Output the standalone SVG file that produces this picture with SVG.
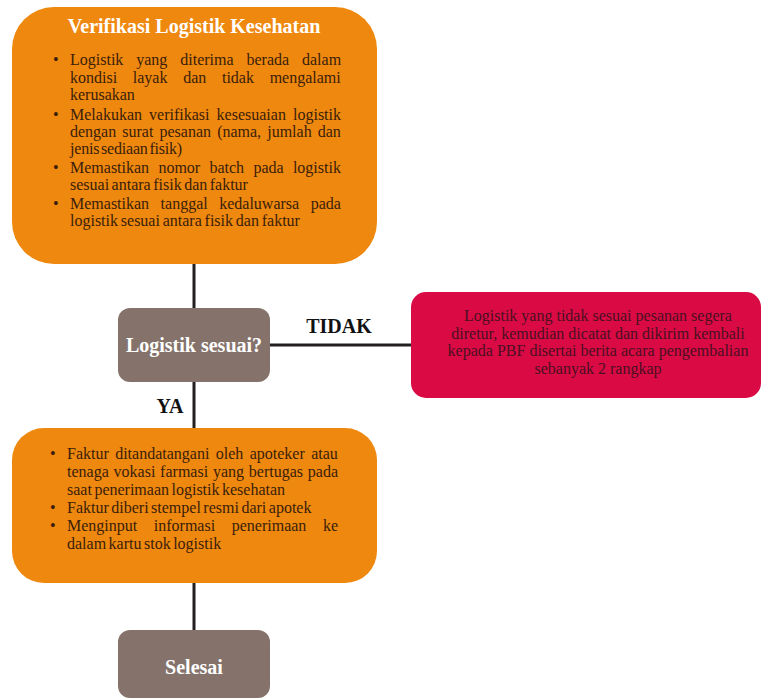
<svg xmlns="http://www.w3.org/2000/svg" width="762" height="700" viewBox="0 0 762 700">
<style>
.orange{fill:#ef880e}
.gray{fill:#85736b}
.red{fill:#da0a45}
.title{font-family:"Liberation Serif",serif;font-weight:bold;font-size:20px;fill:#ffffff}
.lbl{font-family:"Liberation Serif",serif;font-weight:bold;font-size:20px;fill:#111111}
.body{font-family:"Liberation Serif",serif;font-size:16px;fill:#3a1d0a}
.redtxt{font-family:"Liberation Serif",serif;font-size:16px;fill:#4a1020;text-anchor:middle}
.conn{stroke:#231f20;stroke-width:3;fill:none}
</style>
<rect width="762" height="700" fill="#ffffff"/>
<g id="connectors">
<line class="conn" x1="194" y1="262" x2="194" y2="310"/>
<line class="conn" x1="194" y1="380" x2="194" y2="430"/>
<line class="conn" x1="269" y1="345" x2="412" y2="345"/>
<line class="conn" x1="194" y1="581" x2="194" y2="632"/>
<text class="lbl" x="339" y="333" text-anchor="middle">TIDAK</text>
<text class="lbl" x="170" y="413" text-anchor="middle">YA</text>
</g>
<g id="verifikasi">
<rect class="orange" x="12" y="7" width="365" height="257" rx="42" ry="42"/>
<text class="title" x="194" y="33" text-anchor="middle">Verifikasi Logistik Kesehatan</text>
<g class="body">
<text x="53" y="65">•</text>
<text x="70" y="65" word-spacing="8.9">Logistik yang diterima berada dalam</text>
<text x="70" y="82.5" word-spacing="11.7">kondisi layak dan tidak mengalami</text>
<text x="70" y="100">kerusakan</text>
<text x="53" y="120">•</text>
<text x="70" y="120" word-spacing="3.1">Melakukan verifikasi kesesuaian logistik</text>
<text x="70" y="137" word-spacing="2.1">dengan surat pesanan (nama, jumlah dan</text>
<text x="70" y="154" word-spacing="-2" letter-spacing="-0.2">jenis sediaan fisik)</text>
<text x="53" y="173">•</text>
<text x="70" y="173" word-spacing="5.3">Memastikan nomor batch pada logistik</text>
<text x="70" y="190" word-spacing="-1.5">sesuai antara fisik dan faktur</text>
<text x="53" y="209">•</text>
<text x="70" y="209" word-spacing="7.5">Memastikan tanggal kedaluwarsa pada</text>
<text x="70" y="226" word-spacing="-1.2">logistik sesuai antara fisik dan faktur</text>
</g>
</g>
<g id="keputusan">
<rect class="gray" x="118" y="308" width="152" height="74" rx="12" ry="12"/>
<text class="title" x="194" y="352" text-anchor="middle">Logistik sesuai?</text>
</g>
<g id="retur">
<rect class="red" x="411" y="292" width="350" height="106" rx="15" ry="15"/>
<text class="redtxt" x="598" y="321">Logistik yang tidak sesuai pesanan segera</text>
<text class="redtxt" x="598" y="338.5">diretur, kemudian dicatat dan dikirim kembali</text>
<text class="redtxt" x="598" y="356">kepada PBF disertai berita acara pengembalian</text>
<text class="redtxt" x="598" y="373.5">sebanyak 2 rangkap</text>
</g>
<g id="faktur">
<rect class="orange" x="12" y="428" width="365" height="155" rx="32" ry="32"/>
<g class="body">
<text x="50" y="459">•</text>
<text x="67" y="459" word-spacing="2.4">Faktur ditandatangani oleh apoteker atau</text>
<text x="67" y="477" word-spacing="0.8">tenaga vokasi farmasi yang bertugas pada</text>
<text x="67" y="495" word-spacing="-1.5">saat penerimaan logistik kesehatan</text>
<text x="50" y="513">•</text>
<text x="67" y="513" word-spacing="-1.5">Faktur diberi stempel resmi dari apotek</text>
<text x="50" y="531">•</text>
<text x="67" y="531" word-spacing="12.6">Menginput informasi penerimaan ke</text>
<text x="67" y="549" word-spacing="-1.5">dalam kartu stok logistik</text>
</g>
</g>
<g id="selesai">
<rect class="gray" x="118" y="630" width="152" height="68" rx="12" ry="12"/>
<text class="title" x="194" y="674" text-anchor="middle">Selesai</text>
</g>
</svg>
